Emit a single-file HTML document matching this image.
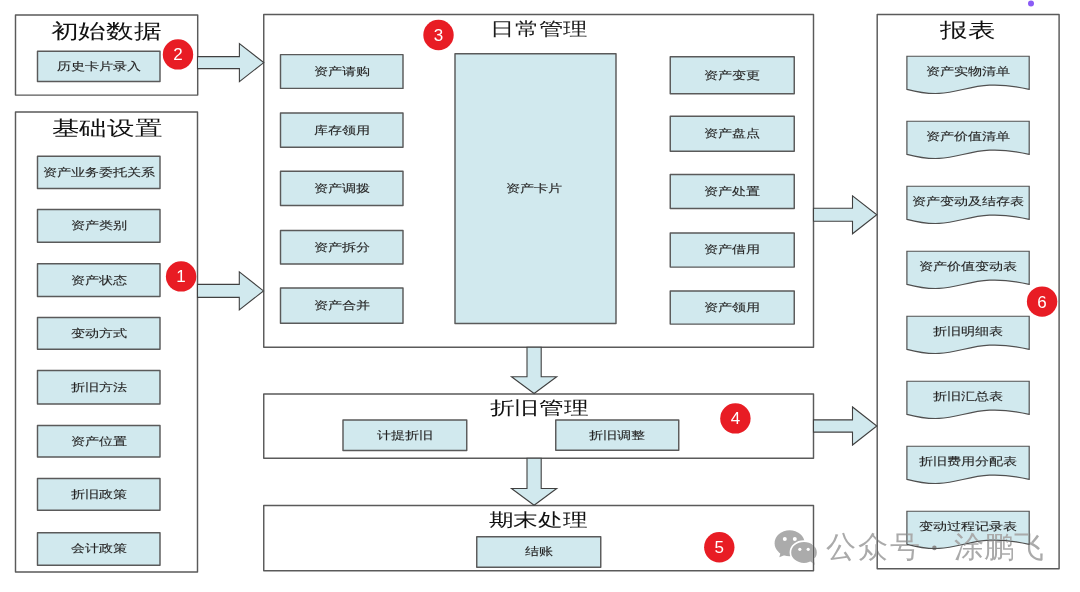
<!DOCTYPE html>
<html><head><meta charset="utf-8"><style>
html,body{margin:0;padding:0;background:#fff;}
body{width:1080px;height:592px;position:relative;overflow:hidden;font-family:"Liberation Sans",sans-serif;}
svg{position:absolute;left:0;top:0;}
.t{position:absolute;white-space:nowrap;line-height:1;}
.num{position:absolute;color:#fff;font-size:17px;line-height:1;transform:translate(-50%,-50%);}
.wm{position:absolute;color:#aaaaaa;font-size:30px;line-height:1;white-space:nowrap;mix-blend-mode:darken;letter-spacing:2px;}
</style></head><body>
<svg width="1080" height="592" viewBox="0 0 1080 592">
<rect x="15.5" y="15" width="182.20" height="80.10" fill="#fff" stroke="#5a5a5a" stroke-width="1.45" stroke-linejoin="round"/>
<rect x="15.5" y="112" width="182.00" height="460.00" fill="#fff" stroke="#5a5a5a" stroke-width="1.45" stroke-linejoin="round"/>
<rect x="263.75" y="14.4" width="549.75" height="332.90" fill="#fff" stroke="#5a5a5a" stroke-width="1.45" stroke-linejoin="round"/>
<rect x="263.75" y="394" width="549.75" height="64.20" fill="#fff" stroke="#5a5a5a" stroke-width="1.45" stroke-linejoin="round"/>
<rect x="263.75" y="505.5" width="549.75" height="65.30" fill="#fff" stroke="#5a5a5a" stroke-width="1.45" stroke-linejoin="round"/>
<rect x="877.2" y="14.4" width="181.90" height="554.30" fill="#fff" stroke="#5a5a5a" stroke-width="1.45" stroke-linejoin="round"/>
<rect x="37.5" y="51.25" width="122.50" height="30.25" fill="#d1e9ee" stroke="#5a5a5a" stroke-width="1.45" stroke-linejoin="round"/>
<rect x="37.5" y="156.25" width="122.50" height="32.25" fill="#d1e9ee" stroke="#5a5a5a" stroke-width="1.45" stroke-linejoin="round"/>
<rect x="37.5" y="209.5" width="122.50" height="32.75" fill="#d1e9ee" stroke="#5a5a5a" stroke-width="1.45" stroke-linejoin="round"/>
<rect x="37.5" y="263.75" width="122.50" height="32.75" fill="#d1e9ee" stroke="#5a5a5a" stroke-width="1.45" stroke-linejoin="round"/>
<rect x="37.5" y="317.5" width="122.50" height="31.75" fill="#d1e9ee" stroke="#5a5a5a" stroke-width="1.45" stroke-linejoin="round"/>
<rect x="37.5" y="370.5" width="122.50" height="33.50" fill="#d1e9ee" stroke="#5a5a5a" stroke-width="1.45" stroke-linejoin="round"/>
<rect x="37.5" y="425.5" width="122.50" height="31.50" fill="#d1e9ee" stroke="#5a5a5a" stroke-width="1.45" stroke-linejoin="round"/>
<rect x="37.5" y="478.5" width="122.50" height="31.75" fill="#d1e9ee" stroke="#5a5a5a" stroke-width="1.45" stroke-linejoin="round"/>
<rect x="37.5" y="532.75" width="122.50" height="32.50" fill="#d1e9ee" stroke="#5a5a5a" stroke-width="1.45" stroke-linejoin="round"/>
<rect x="280.5" y="54.6" width="122.50" height="33.80" fill="#d1e9ee" stroke="#5a5a5a" stroke-width="1.45" stroke-linejoin="round"/>
<rect x="280.5" y="113" width="122.50" height="34.25" fill="#d1e9ee" stroke="#5a5a5a" stroke-width="1.45" stroke-linejoin="round"/>
<rect x="280.5" y="171.25" width="122.50" height="34.25" fill="#d1e9ee" stroke="#5a5a5a" stroke-width="1.45" stroke-linejoin="round"/>
<rect x="280.5" y="230.5" width="122.50" height="33.50" fill="#d1e9ee" stroke="#5a5a5a" stroke-width="1.45" stroke-linejoin="round"/>
<rect x="280.5" y="288" width="122.50" height="35.25" fill="#d1e9ee" stroke="#5a5a5a" stroke-width="1.45" stroke-linejoin="round"/>
<rect x="455" y="53.75" width="161.00" height="269.75" fill="#d1e9ee" stroke="#5a5a5a" stroke-width="1.45" stroke-linejoin="round"/>
<rect x="670.25" y="56.75" width="124.00" height="37.00" fill="#d1e9ee" stroke="#5a5a5a" stroke-width="1.45" stroke-linejoin="round"/>
<rect x="670.25" y="116.25" width="124.00" height="35.00" fill="#d1e9ee" stroke="#5a5a5a" stroke-width="1.45" stroke-linejoin="round"/>
<rect x="670.25" y="174.5" width="124.00" height="33.90" fill="#d1e9ee" stroke="#5a5a5a" stroke-width="1.45" stroke-linejoin="round"/>
<rect x="670.25" y="233" width="124.00" height="34.10" fill="#d1e9ee" stroke="#5a5a5a" stroke-width="1.45" stroke-linejoin="round"/>
<rect x="670.25" y="291" width="124.00" height="33.10" fill="#d1e9ee" stroke="#5a5a5a" stroke-width="1.45" stroke-linejoin="round"/>
<rect x="343" y="420" width="123.75" height="30.50" fill="#d1e9ee" stroke="#5a5a5a" stroke-width="1.45" stroke-linejoin="round"/>
<rect x="555.75" y="420" width="123.00" height="30.25" fill="#d1e9ee" stroke="#5a5a5a" stroke-width="1.45" stroke-linejoin="round"/>
<rect x="476.75" y="536.75" width="124.00" height="30.50" fill="#d1e9ee" stroke="#5a5a5a" stroke-width="1.45" stroke-linejoin="round"/>
<path d="M906.9,56.25 H1029.2 V89.35 C963.93,74.49 961.23,103.93 906.9,89.35 Z" fill="#d1e9ee" stroke="#505050" stroke-width="1.2"/>
<path d="M906.9,121.25 H1029.2 V154.35 C963.93,139.49 961.23,168.93 906.9,154.35 Z" fill="#d1e9ee" stroke="#505050" stroke-width="1.2"/>
<path d="M906.9,186.25 H1029.2 V219.35 C963.93,204.49 961.23,233.93 906.9,219.35 Z" fill="#d1e9ee" stroke="#505050" stroke-width="1.2"/>
<path d="M906.9,251.25 H1029.2 V284.35 C963.93,269.49 961.23,298.93 906.9,284.35 Z" fill="#d1e9ee" stroke="#505050" stroke-width="1.2"/>
<path d="M906.9,316.25 H1029.2 V349.35 C963.93,334.49 961.23,363.93 906.9,349.35 Z" fill="#d1e9ee" stroke="#505050" stroke-width="1.2"/>
<path d="M906.9,381.25 H1029.2 V414.35 C963.93,399.49 961.23,428.93 906.9,414.35 Z" fill="#d1e9ee" stroke="#505050" stroke-width="1.2"/>
<path d="M906.9,446.25 H1029.2 V479.35 C963.93,464.49 961.23,493.93 906.9,479.35 Z" fill="#d1e9ee" stroke="#505050" stroke-width="1.2"/>
<path d="M906.9,511.25 H1029.2 V544.35 C963.93,529.49 961.23,558.93 906.9,544.35 Z" fill="#d1e9ee" stroke="#505050" stroke-width="1.2"/>
<path d="M197.5,56.6 H239.4 V43.6 L263.75,62.6 L239.4,81.6 V68.6 H197.5 Z" fill="#d1e9ee" stroke="#404040" stroke-width="1.1" stroke-linejoin="miter"/>
<path d="M197.5,284.4 H239.3 V271.9 L263.5,290.9 L239.3,309.9 V297.4 H197.5 Z" fill="#d1e9ee" stroke="#404040" stroke-width="1.1" stroke-linejoin="miter"/>
<path d="M813.5,208.3 H852.5 V195.8 L876.8,214.8 L852.5,233.8 V221.3 H813.5 Z" fill="#d1e9ee" stroke="#404040" stroke-width="1.1" stroke-linejoin="miter"/>
<path d="M813.5,419.9 H852.5 V407 L876.8,426 L852.5,445 V432.1 H813.5 Z" fill="#d1e9ee" stroke="#404040" stroke-width="1.1" stroke-linejoin="miter"/>
<path d="M527.0,347.3 V376.7 H511.5 L534.1,393.5 L556.7,376.7 H541.2 V347.3 Z" fill="#d1e9ee" stroke="#404040" stroke-width="1.1"/>
<path d="M527.0,458.2 V488.5 H511.5 L534.1,505.2 L556.7,488.5 H541.2 V458.2 Z" fill="#d1e9ee" stroke="#404040" stroke-width="1.1"/>
<circle cx="178" cy="54.4" r="15.2" fill="#e81c24"/>
<circle cx="181.1" cy="276.4" r="15.2" fill="#e81c24"/>
<circle cx="438.5" cy="35" r="15.2" fill="#e81c24"/>
<circle cx="735.4" cy="418.4" r="15.2" fill="#e81c24"/>
<circle cx="719.3" cy="547.2" r="15.2" fill="#e81c24"/>
<circle cx="1042.1" cy="301.6" r="15.2" fill="#e81c24"/>
<circle cx="1031" cy="3.5" r="3" fill="#8b5cf6"/>
</svg>
<div class="t" style="left:98.75px;top:65.80000000000001px;font-size:11px;color:#222;transform:translate(-50%,-50%) scaleX(1.28);-webkit-text-stroke:0.12px #3a3a3a;">历史卡片录入</div>
<div class="t" style="left:98.75px;top:171.775px;font-size:11px;color:#222;transform:translate(-50%,-50%) scaleX(1.28);-webkit-text-stroke:0.12px #3a3a3a;">资产业务委托关系</div>
<div class="t" style="left:98.75px;top:225.275px;font-size:11px;color:#222;transform:translate(-50%,-50%) scaleX(1.28);-webkit-text-stroke:0.12px #3a3a3a;">资产类别</div>
<div class="t" style="left:98.75px;top:279.525px;font-size:11px;color:#222;transform:translate(-50%,-50%) scaleX(1.28);-webkit-text-stroke:0.12px #3a3a3a;">资产状态</div>
<div class="t" style="left:98.75px;top:332.775px;font-size:11px;color:#222;transform:translate(-50%,-50%) scaleX(1.28);-webkit-text-stroke:0.12px #3a3a3a;">变动方式</div>
<div class="t" style="left:98.75px;top:386.65px;font-size:11px;color:#222;transform:translate(-50%,-50%) scaleX(1.28);-webkit-text-stroke:0.12px #3a3a3a;">折旧方法</div>
<div class="t" style="left:98.75px;top:440.65px;font-size:11px;color:#222;transform:translate(-50%,-50%) scaleX(1.28);-webkit-text-stroke:0.12px #3a3a3a;">资产位置</div>
<div class="t" style="left:98.75px;top:493.775px;font-size:11px;color:#222;transform:translate(-50%,-50%) scaleX(1.28);-webkit-text-stroke:0.12px #3a3a3a;">折旧政策</div>
<div class="t" style="left:98.75px;top:548.4px;font-size:11px;color:#222;transform:translate(-50%,-50%) scaleX(1.28);-webkit-text-stroke:0.12px #3a3a3a;">会计政策</div>
<div class="t" style="left:341.75px;top:70.9px;font-size:11px;color:#222;transform:translate(-50%,-50%) scaleX(1.28);-webkit-text-stroke:0.12px #3a3a3a;">资产请购</div>
<div class="t" style="left:341.75px;top:129.525px;font-size:11px;color:#222;transform:translate(-50%,-50%) scaleX(1.28);-webkit-text-stroke:0.12px #3a3a3a;">库存领用</div>
<div class="t" style="left:341.75px;top:187.775px;font-size:11px;color:#222;transform:translate(-50%,-50%) scaleX(1.28);-webkit-text-stroke:0.12px #3a3a3a;">资产调拨</div>
<div class="t" style="left:341.75px;top:246.65px;font-size:11px;color:#222;transform:translate(-50%,-50%) scaleX(1.28);-webkit-text-stroke:0.12px #3a3a3a;">资产拆分</div>
<div class="t" style="left:341.75px;top:305.025px;font-size:11px;color:#222;transform:translate(-50%,-50%) scaleX(1.28);-webkit-text-stroke:0.12px #3a3a3a;">资产合并</div>
<div class="t" style="left:534.2px;top:188.0px;font-size:11px;color:#222;transform:translate(-50%,-50%) scaleX(1.28);-webkit-text-stroke:0.12px #3a3a3a;">资产卡片</div>
<div class="t" style="left:732.25px;top:74.65px;font-size:11px;color:#222;transform:translate(-50%,-50%) scaleX(1.28);-webkit-text-stroke:0.12px #3a3a3a;">资产变更</div>
<div class="t" style="left:732.25px;top:133.15px;font-size:11px;color:#222;transform:translate(-50%,-50%) scaleX(1.28);-webkit-text-stroke:0.12px #3a3a3a;">资产盘点</div>
<div class="t" style="left:732.25px;top:190.85px;font-size:11px;color:#222;transform:translate(-50%,-50%) scaleX(1.28);-webkit-text-stroke:0.12px #3a3a3a;">资产处置</div>
<div class="t" style="left:732.25px;top:249.45000000000002px;font-size:11px;color:#222;transform:translate(-50%,-50%) scaleX(1.28);-webkit-text-stroke:0.12px #3a3a3a;">资产借用</div>
<div class="t" style="left:732.25px;top:306.95px;font-size:11px;color:#222;transform:translate(-50%,-50%) scaleX(1.28);-webkit-text-stroke:0.12px #3a3a3a;">资产领用</div>
<div class="t" style="left:404.9px;top:434.7px;font-size:11px;color:#222;transform:translate(-50%,-50%) scaleX(1.28);-webkit-text-stroke:0.12px #3a3a3a;">计提折旧</div>
<div class="t" style="left:617.25px;top:434.9px;font-size:11px;color:#222;transform:translate(-50%,-50%) scaleX(1.28);-webkit-text-stroke:0.12px #3a3a3a;">折旧调整</div>
<div class="t" style="left:538.75px;top:550.8px;font-size:11px;color:#222;transform:translate(-50%,-50%) scaleX(1.28);-webkit-text-stroke:0.12px #3a3a3a;">结账</div>
<div class="t" style="left:968px;top:70.85000000000001px;font-size:11px;color:#222;transform:translate(-50%,-50%) scaleX(1.28);-webkit-text-stroke:0.12px #3a3a3a;">资产实物清单</div>
<div class="t" style="left:968px;top:135.85px;font-size:11px;color:#222;transform:translate(-50%,-50%) scaleX(1.28);-webkit-text-stroke:0.12px #3a3a3a;">资产价值清单</div>
<div class="t" style="left:968px;top:200.85px;font-size:11px;color:#222;transform:translate(-50%,-50%) scaleX(1.28);-webkit-text-stroke:0.12px #3a3a3a;">资产变动及结存表</div>
<div class="t" style="left:968px;top:265.84999999999997px;font-size:11px;color:#222;transform:translate(-50%,-50%) scaleX(1.28);-webkit-text-stroke:0.12px #3a3a3a;">资产价值变动表</div>
<div class="t" style="left:968px;top:330.84999999999997px;font-size:11px;color:#222;transform:translate(-50%,-50%) scaleX(1.28);-webkit-text-stroke:0.12px #3a3a3a;">折旧明细表</div>
<div class="t" style="left:968px;top:395.84999999999997px;font-size:11px;color:#222;transform:translate(-50%,-50%) scaleX(1.28);-webkit-text-stroke:0.12px #3a3a3a;">折旧汇总表</div>
<div class="t" style="left:968px;top:460.84999999999997px;font-size:11px;color:#222;transform:translate(-50%,-50%) scaleX(1.28);-webkit-text-stroke:0.12px #3a3a3a;">折旧费用分配表</div>
<div class="t" style="left:968px;top:525.85px;font-size:11px;color:#222;transform:translate(-50%,-50%) scaleX(1.28);-webkit-text-stroke:0.12px #3a3a3a;">变动过程记录表</div>
<div class="t" style="left:106.25px;top:30.65px;font-size:20px;color:#111;transform:translate(-50%,-50%) scaleX(1.38);">初始数据</div>
<div class="t" style="left:106.5px;top:127.75px;font-size:20px;color:#111;transform:translate(-50%,-50%) scaleX(1.38);">基础设置</div>
<div class="t" style="left:967.95px;top:29.55px;font-size:20px;color:#111;transform:translate(-50%,-50%) scaleX(1.38);">报表</div>
<div class="t" style="left:538.6px;top:28.75px;font-size:18px;color:#1c1c1c;transform:translate(-50%,-50%) scaleX(1.355);">日常管理</div>
<div class="t" style="left:538.6px;top:407.5px;font-size:18px;color:#111;transform:translate(-50%,-50%) scaleX(1.37);">折旧管理</div>
<div class="t" style="left:538.35px;top:519.7px;font-size:18px;color:#111;transform:translate(-50%,-50%) scaleX(1.37);">期末处理</div>
<div class="num" style="left:178px;top:54.4px">2</div>
<div class="num" style="left:181.1px;top:276.4px">1</div>
<div class="num" style="left:438.5px;top:35px">3</div>
<div class="num" style="left:735.4px;top:418.4px">4</div>
<div class="num" style="left:719.3px;top:547.2px">5</div>
<div class="num" style="left:1042.1px;top:301.6px">6</div>
<svg width="1080" height="592" viewBox="0 0 1080 592" style="mix-blend-mode:darken">
<g fill="#ababab">
<ellipse cx="789.6" cy="543.2" rx="15" ry="13"/>
<path d="M780.5,553 L779.3,557.3 L786,554.5 Z"/>
<ellipse cx="804" cy="552.4" rx="13.6" ry="11.3" stroke="#fff" stroke-width="1.6"/>
<path d="M810,561 L815,565 L813,558 Z"/>
</g>
<circle cx="934.4" cy="547.9" r="2.3" fill="#8a8a8a"/>
<g fill="#fff">
<circle cx="784.8" cy="538.9" r="2"/><circle cx="794.8" cy="538.9" r="2"/>
<circle cx="799.8" cy="549.3" r="1.6"/><circle cx="808.2" cy="549.3" r="1.6"/>
</g>
</svg>
<div class="wm" style="left:825.5px;top:532px">公众号</div>
<div class="wm" style="left:954px;top:532px;letter-spacing:0">涂鹏飞</div>
</body></html>
